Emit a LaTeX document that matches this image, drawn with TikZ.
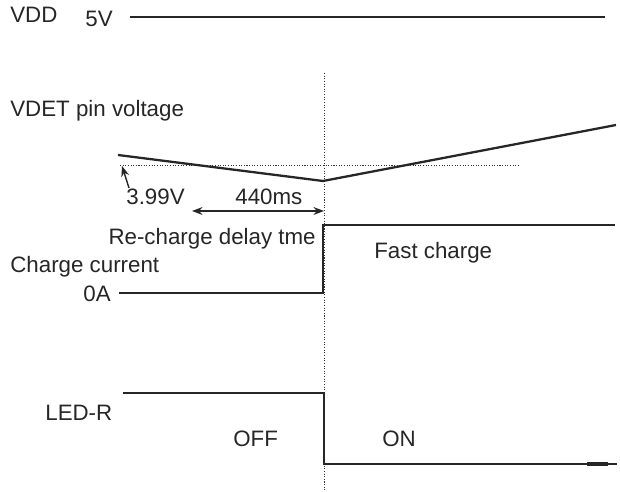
\documentclass[tikz,border=0pt]{standalone}
\usepackage{fontspec}
\setmainfont{Liberation Sans}
\usetikzlibrary{arrows.meta, positioning}

\begin{document}
\begin{tikzpicture}[
        x=0.02cm, y=-0.02cm,
        lbl/.style={
            inner sep=0pt,
            anchor=base west,
            font=\fontsize{12.7}{15}\selectfont,
            text=black!85
        },
        lblr/.style={
            lbl,
            anchor=base east
        },
        wave/.style={
            line width=1.3pt,
            draw=black!85,
            line join=miter
        },
        guide/.style={
            line width=0.5pt,
            draw=black!80,
            dash pattern=on 0.6pt off 0.9pt
        },
        arrow/.style={
            -{Stealth[length=6pt, width=4.5pt]},
            line width=0.8pt,
            draw=black!85
        },
        dblarrow/.style={
            {Stealth[length=6pt, width=4.5pt]}-{Stealth[length=6pt, width=4.5pt]},
            line width=0.8pt,
            draw=black!85
        }
    ]
        \useasboundingbox (0,0) rectangle (620,492);

        % labels
        \node (vdd) [lbl] at (10,23) {VDD};
        \node (vddval) [lbl] at (85,27) {5V};
        \node (vdet) [lbl] at (10,117) {VDET pin voltage};
        \node (thr) [lbl] at (126,205) {3.99V};
        \node (delay) [lbl] at (235,205) {440ms};
        \node (recharge) [lblr] at (316,245) {Re-charge delay tme};
        \node (chg) [lbl] at (10,273) {Charge current};
        \node (zero) [lblr] at (111,302) {0A};
        \node (fast) [lbl] at (374,259) {Fast charge};
        \node (led) [lbl] at (45,421) {LED-R};
        \node (off) [lbl] at (233,447) {OFF};
        \node (on) [lbl] at (382,447) {ON};

        % guide lines
        \coordinate (ttop) at (324,73);
        \coordinate (tbot) at (324,492);
        \coordinate (vleft) at (120,165);
        \coordinate (vright) at (518,165);
        \draw [guide] (ttop) -- (tbot);
        \draw [guide] (vleft) -- (vright);

        % waveforms
        \draw [wave] (130,17) -- (605,17);
        \draw [wave] (118,155) -- (323,181) -- (616,125);
        \draw [wave] (119,293) -- (323,293) -- (323,225) -- (615,225);
        \draw [wave] (123,393) -- (324,393) -- (324,464) -- (617,464);
        \draw [wave, line width=2pt] (587,464) -- (608,464);

        % arrows
        \coordinate (thrtail) at (129,188);
        \coordinate (thrhead) at (122,166);
        \coordinate (dstart) at (192,211);
        \coordinate (dend) at (324,211);
        \draw [arrow] (thrtail) -- (thrhead);
        \draw [dblarrow] (dstart) -- (dend);
    \end{tikzpicture}
\end{document}
